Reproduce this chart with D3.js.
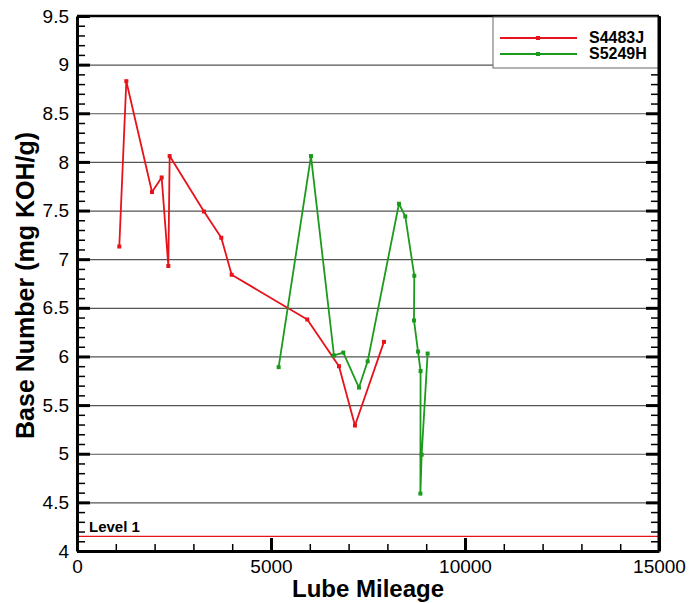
<!DOCTYPE html>
<meta charset="utf-8">
<title>Base Number vs Lube Mileage</title>
<style>
body { margin: 0; background: #fff; }
svg { font-family: "Liberation Sans", Arial, sans-serif; }
.grid line { stroke: #555; stroke-width: 1.2px; }
.grid path { display: none; }
.axis path { stroke: #000; stroke-width: 3px; }
.axis line { stroke: #000; }
.major line { stroke-width: 3px; }
.minor line { stroke-width: 1.5px; }
.axis text { font-size: 19px; fill: #000; }
</style>
<body>
<svg width="689" height="603" id="svg"></svg>
<script src="https://d3js.org/d3.v7.min.js"></script>
<script>

// S4483J
var redMiles = [1090, 1271, 1933, 2182, 2354, 2388, 3273, 3719, 3986, 5935, 6752, 7164, 7911];
var redBase  = [7.13, 8.83, 7.69, 7.84, 6.93, 8.06, 7.49, 7.22, 6.84, 6.38, 5.90, 5.29, 6.15];

// S5249H
var greenMiles = [5197, 6030, 6623, 6863, 7267, 7491, 8298, 8461, 8693, 8685, 8790, 8855, 8850, 8883, 9037];
var greenBase  = [5.89, 8.06, 6.01, 6.04, 5.68, 5.95, 7.57, 7.44, 6.83, 6.37, 6.05, 5.85, 4.59, 4.99, 6.03];

var seriesNames = ["S4483J", "S5249H"];
var seriesColors = ["#e8121a", "#1c9a1c"];
var levelValue = 4.15;
var levelLabel = "Level 1";

var xMajor = [0, 5000, 10000, 15000];
var yMajor = [4, 4.5, 5, 5.5, 6, 6.5, 7, 7.5, 8, 8.5, 9, 9.5];

var svg = d3.select("svg"),
    margin = {top: 16, right: 30, bottom: 52, left: 77},
    width = +svg.attr("width") - margin.left - margin.right,
    height = +svg.attr("height") - margin.top - margin.bottom;

var g = svg.append("g").attr("transform", "translate(" + margin.left + "," + margin.top + ")");

var x = d3.scaleLinear().domain([0, 15000]).range([0, width]);
var y = d3.scaleLinear().domain([4, 9.5]).range([height, 0]);

var yMinor = d3.range(40, 96).map(function(d) { return d / 10; });
var xMinor = d3.range(0, 15001, 1000);

// horizontal grid
g.append("g")
    .attr("class", "grid")
    .call(d3.axisLeft(y).tickValues(yMajor.slice(1, -1)).tickSize(-width).tickFormat(""));

// level line
g.append("line")
    .attr("x1", 0).attr("x2", width)
    .attr("y1", y(levelValue)).attr("y2", y(levelValue))
    .attr("stroke", "#e8121a").attr("stroke-width", 1.3);

g.append("text")
    .attr("x", 12).attr("y", y(levelValue) - 4)
    .attr("font-size", 15).attr("font-weight", "bold")
    .text(levelLabel);

// minor ticks
g.append("g").attr("class", "axis minor")
    .call(d3.axisLeft(y).tickValues(yMinor).tickSize(-8).tickFormat(""))
    .select(".domain").remove();
g.append("g").attr("class", "axis minor")
    .attr("transform", "translate(" + width + ",0)")
    .call(d3.axisRight(y).tickValues(yMinor).tickSize(-8).tickFormat(""))
    .select(".domain").remove();
g.append("g").attr("class", "axis minor")
    .attr("transform", "translate(0," + height + ")")
    .call(d3.axisBottom(x).tickValues(xMinor).tickSize(-7).tickFormat(""))
    .select(".domain").remove();

// major axes
g.append("g").attr("class", "axis major")
    .call(d3.axisLeft(y).tickValues(yMajor).tickSizeInner(-13).tickSizeOuter(0).tickPadding(8).tickFormat(d3.format("")));
g.append("g").attr("class", "axis major")
    .attr("transform", "translate(" + width + ",0)")
    .call(d3.axisRight(y).tickValues(yMajor).tickSizeInner(-13).tickSizeOuter(0).tickFormat(""));
g.append("g").attr("class", "axis major")
    .attr("transform", "translate(0," + height + ")")
    .call(d3.axisBottom(x).tickValues(xMajor).tickSizeInner(-13).tickSizeOuter(0).tickPadding(9).tickFormat(d3.format("d")));

// top border
g.append("line")
    .attr("x1", 0).attr("x2", width).attr("y1", 0).attr("y2", 0)
    .attr("stroke", "#000").attr("stroke-width", 2.5);

// series
var line = d3.line()
    .x(function(d) { return x(d[0]); })
    .y(function(d) { return y(d[1]); });

var series = [d3.zip(redMiles, redBase), d3.zip(greenMiles, greenBase)];

series.forEach(function(pts, i) {
  g.append("path")
      .datum(pts)
      .attr("fill", "none")
      .attr("stroke", seriesColors[i])
      .attr("stroke-width", 1.8)
      .attr("stroke-linejoin", "round")
      .attr("d", line);

  g.selectAll(".m" + i)
      .data(pts)
      .enter().append("rect")
      .attr("class", "m" + i)
      .attr("x", function(d) { return x(d[0]) - 2; })
      .attr("y", function(d) { return y(d[1]) - 2; })
      .attr("width", 4).attr("height", 4)
      .attr("fill", seriesColors[i]);
});

// legend
var legend = g.append("g").attr("transform", "translate(" + (width - 166) + ",1)");
legend.append("rect")
    .attr("width", 166).attr("height", 51)
    .attr("fill", "#fff").attr("stroke", "#666").attr("stroke-width", 1);

seriesNames.forEach(function(name, i) {
  var ly = 21 + i * 16;
  legend.append("line")
      .attr("x1", 7).attr("x2", 84).attr("y1", ly).attr("y2", ly)
      .attr("stroke", seriesColors[i]).attr("stroke-width", 1.8);
  legend.append("rect")
      .attr("x", 43).attr("y", ly - 2).attr("width", 4).attr("height", 4)
      .attr("fill", seriesColors[i]);
  legend.append("text")
      .attr("x", 96).attr("y", ly + 5)
      .attr("font-size", 16).attr("font-weight", "bold")
      .text(name);
});

// re-draw right border over legend
g.append("line")
    .attr("x1", width).attr("x2", width).attr("y1", 0).attr("y2", height)
    .attr("stroke", "#000").attr("stroke-width", 3);

// axis titles
svg.append("text")
    .attr("x", margin.left + width / 2).attr("y", 597)
    .attr("text-anchor", "middle")
    .attr("font-size", 24).attr("font-weight", "bold")
    .text("Lube Mileage");

svg.append("text")
    .attr("transform", "translate(34," + (margin.top + height / 2 + 2) + ") rotate(-90)")
    .attr("text-anchor", "middle")
    .attr("font-size", 25).attr("font-weight", "bold")
    .text("Base Number (mg KOH/g)");

</script>
</body>
